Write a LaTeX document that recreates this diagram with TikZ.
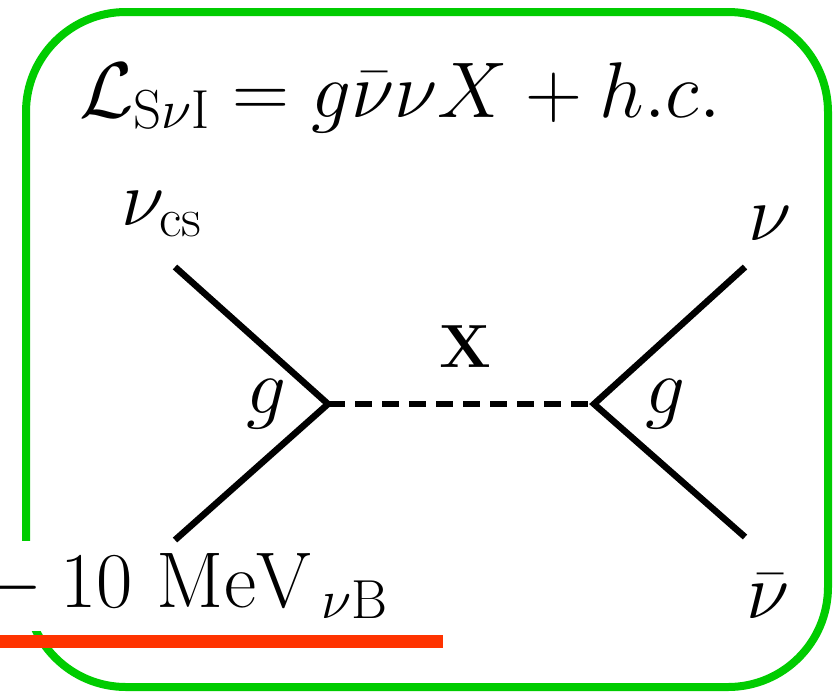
\RequirePackage{fix-cm}
\documentclass[tikz,border=0pt]{standalone}
\DeclareMathSizes{79}{79}{55}{40}
\definecolor{boxgreen}{RGB}{0,204,0}
\definecolor{barred}{RGB}{255,51,0}
\tikzset{
  frame/.style={draw=boxgreen, line width=8pt, rounded corners=100pt},
  fermion/.style={draw=black, line width=6.5pt, line join=miter},
  scalar/.style={draw=black, line width=6.5pt, dash pattern=on 17pt off 10pt},
  lbl/.style={inner sep=0pt, font=\fontsize{79}{82}\selectfont},
  redbar/.style={draw=barred, line width=13pt}
}
\begin{document}
\begin{tikzpicture}[x=1pt,y=-1pt]
\useasboundingbox (0,0) rectangle (834,691);
% frame
\draw[frame] (26,12) rectangle (828,687);
% energy label (white background hides frame)
\node[lbl, fill=white, inner ysep=12pt, anchor=base west] (mev) at (-36,607)
  {${}-10\ \mathrm{MeV}_{\,\nu\mathrm{B}}$};
% lagrangian
\node[lbl, anchor=base] (lag) at (400,117)
  {$\mathcal{L}_{\mathrm{S}\nu\mathrm{I}} = g\bar{\nu}\nu X + h.c.$};
% coordinates
\coordinate (a) at (175,267);
\coordinate (b) at (175,540);
\coordinate (vL) at (328,404);
\coordinate (vR) at (594,404);
\coordinate (c) at (745,267);
\coordinate (d) at (745,537);
\draw[fermion] (a) -- (vL) -- (b);
\draw[fermion] (c) -- (vR) -- (d);
\draw[scalar] (vL) -- (vR);
% labels
\node[lbl, anchor=base west] (nucs) at (121,225) {$\nu_{\mathrm{cs}}$};
\node[lbl, anchor=base] (nu) at (770,240) {$\nu$};
\node[lbl, anchor=base] (nubar) at (768,618) {$\bar{\nu}$};
\node[inner sep=0pt, font=\fontsize{61}{64}\selectfont\bfseries, anchor=base] (X) at (465,367) {X};
\node[lbl, anchor=base] (gL) at (266,413) {$g$};
\node[lbl, anchor=base] (gR) at (665,413) {$g$};
% red bar
\coordinate (r1) at (0,641);
\coordinate (r2) at (443,641);
\draw[redbar] (r1) -- (r2);
\end{tikzpicture}
\end{document}
